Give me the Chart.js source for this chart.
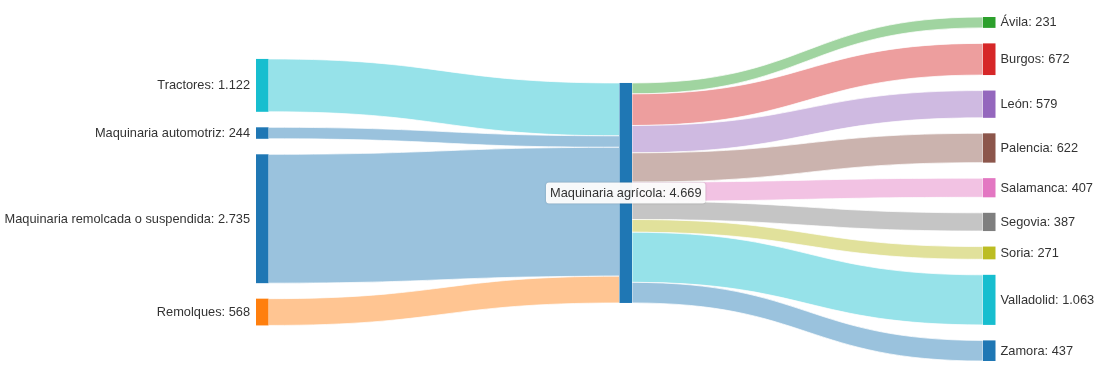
<!DOCTYPE html>
<html>
<head>
<meta charset="utf-8">
<script src="https://cdn.jsdelivr.net/npm/chart.js@4"></script>
<style>
html,body{margin:0;padding:0;background:#fff;}
#wrap{width:1099px;height:379px;position:relative;}
</style>
</head>
<body>
<div id="wrap"><canvas id="c" width="1099" height="379"></canvas></div>
<script>
// ---- data ----
const sources = ['Tractores', 'Maquinaria automotriz', 'Maquinaria remolcada o suspendida', 'Remolques'];
const sourceValues = [1122, 244, 2735, 568];
const sourceColors = ['#17becf', '#1f77b4', '#1f77b4', '#ff7f0e'];
const hubName = 'Maquinaria agrícola';
const hubColor = '#1f77b4';
const provinces = ['Ávila', 'Burgos', 'León', 'Palencia', 'Salamanca', 'Segovia', 'Soria', 'Valladolid', 'Zamora'];
const provinceValues = [231, 672, 579, 622, 407, 387, 271, 1063, 437];
const provinceColors = ['#2ca02c', '#d62728', '#9467bd', '#8c564b', '#e377c2', '#7f7f7f', '#bcbd22', '#17becf', '#1f77b4'];

// ---- layout constants (value units on the y scale) ----
const PAD = 329;                 // gap between nodes
const COL_OFFSET = [890, 1400, 0];
const NODE_W = 12.5;
const LINK_ALPHA = 0.45;
const FONT = '12.8px "Liberation Sans", Arial, sans-serif';
const TEXT = '#333';

const hubValue = sourceValues.reduce((a, b) => a + b, 0);
const yMax = provinceValues.reduce((a, b) => a + b, 0) + PAD * (provinceValues.length - 1);

function fmt(n) {
  return String(n).replace(/\B(?=(\d{3})+(?!\d))/g, '.');
}
function alpha(hex, a) {
  const r = parseInt(hex.slice(1, 3), 16), g = parseInt(hex.slice(3, 5), 16), b = parseInt(hex.slice(5, 7), 16);
  return `rgba(${r},${g},${b},${a})`;
}
function stack(values, offset) {
  let y = offset;
  return values.map(v => { const s = y; y += v + PAD; return [s, s + v]; });
}

const sankeyPlugin = {
  id: 'sankey',
  afterDatasetsDraw(chart) {
    const ctx = chart.ctx;
    const xs = chart.scales.x, ys = chart.scales.y;
    const X = c => xs.getPixelForValue(c);
    const Y = v => ys.getPixelForValue(v);

    const left = stack(sourceValues, COL_OFFSET[0]);
    const hub = [COL_OFFSET[1], COL_OFFSET[1] + hubValue];
    const right = stack(provinceValues, COL_OFFSET[2]);

    function band(x0, a0, b0, x1, a1, b1, color) {
      const xm = (x0 + x1) / 2;
      ctx.beginPath();
      ctx.moveTo(x0, a0);
      ctx.bezierCurveTo(xm, a0, xm, a1, x1, a1);
      ctx.lineTo(x1, b1);
      ctx.bezierCurveTo(xm, b1, xm, b0, x0, b0);
      ctx.closePath();
      ctx.fillStyle = color;
      ctx.fill();
      ctx.strokeStyle = 'rgba(255,255,255,0.9)';
      ctx.lineWidth = 0.8;
      ctx.stroke();
    }

    ctx.save();
    // links left -> hub
    let hy = hub[0];
    sourceValues.forEach((v, i) => {
      band(X(0) + NODE_W, Y(left[i][0]), Y(left[i][1]), X(1), Y(hy), Y(hy + v), alpha(sourceColors[i], LINK_ALPHA));
      hy += v;
    });
    // links hub -> right
    hy = hub[0];
    provinceValues.forEach((v, i) => {
      band(X(1) + NODE_W, Y(hy), Y(hy + v), X(2), Y(right[i][0]), Y(right[i][1]), alpha(provinceColors[i], LINK_ALPHA));
      hy += v;
    });
    // nodes
    function node(col, r, color) {
      ctx.fillStyle = color;
      ctx.fillRect(X(col), Y(r[0]), NODE_W, Y(r[1]) - Y(r[0]));
    }
    left.forEach((r, i) => node(0, r, sourceColors[i]));
    node(1, hub, hubColor);
    right.forEach((r, i) => node(2, r, provinceColors[i]));

    // labels
    ctx.font = FONT;
    ctx.fillStyle = TEXT;
    ctx.textBaseline = 'middle';
    ctx.textAlign = 'right';
    left.forEach((r, i) => ctx.fillText(`${sources[i]}: ${fmt(sourceValues[i])}`, X(0) - 6, (Y(r[0]) + Y(r[1])) / 2 + 0.5));
    ctx.textAlign = 'left';
    right.forEach((r, i) => ctx.fillText(`${provinces[i]}: ${fmt(provinceValues[i])}`, X(2) + NODE_W + 5, (Y(r[0]) + Y(r[1])) / 2 + 0.5));

    // hub label with box
    const hubText = `${hubName}: ${fmt(hubValue)}`;
    const cx = X(1) + NODE_W / 2, cy = (Y(hub[0]) + Y(hub[1])) / 2;
    const w = ctx.measureText(hubText).width + 8, h = 21;
    ctx.save();
    ctx.shadowColor = 'rgba(0,0,0,0.25)';
    ctx.shadowBlur = 2;
    ctx.fillStyle = 'rgba(255,255,255,0.95)';
    ctx.beginPath();
    ctx.roundRect(cx - w / 2, cy - h / 2, w, h, 3);
    ctx.fill();
    ctx.restore();
    ctx.fillStyle = TEXT;
    ctx.textAlign = 'center';
    ctx.fillText(hubText, cx, cy + 0.5);
    ctx.restore();
  }
};

new Chart(document.getElementById('c'), {
  type: 'scatter',
  data: { datasets: [{ data: [] }] },
  options: {
    responsive: false,
    animation: false,
    layout: { padding: { left: 256, right: 116, top: 17, bottom: 18 } },
    plugins: { legend: { display: false }, tooltip: { enabled: false } },
    scales: {
      x: { type: 'linear', min: 0, max: 2, display: false },
      y: { type: 'linear', min: 0, max: yMax, reverse: true, display: false }
    }
  },
  plugins: [sankeyPlugin]
});
</script>
</body>
</html>
